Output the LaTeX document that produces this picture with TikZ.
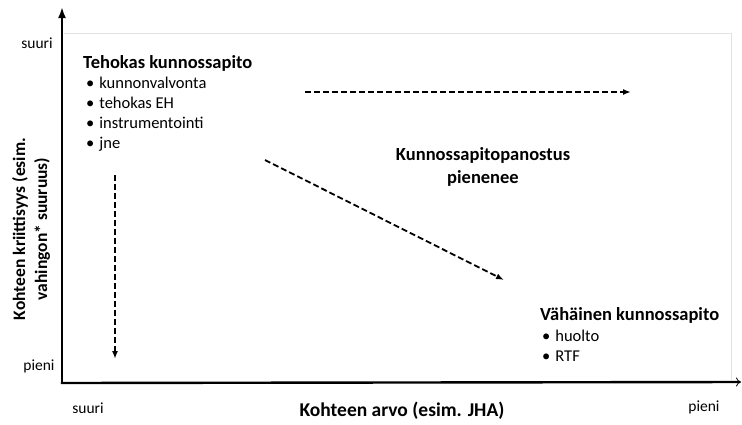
\documentclass[tikz,border=0pt]{standalone}
\usepackage{fontspec}
\setmainfont{Carlito}
\usetikzlibrary{arrows.meta,positioning}
\definecolor{faint}{HTML}{E2E2E2}
\tikzset{
  lbl/.style={font=\fontsize{15.5}{19}\selectfont, inner sep=0pt},
  head/.style={font=\fontsize{18.5}{20}\selectfont\bfseries, inner sep=0pt},
  item/.style={font=\fontsize{16.5}{20}\selectfont, inner sep=0pt, anchor=base west},
  trend/.style={line width=1.8pt, dash pattern=on 6pt off 3pt, -{Latex[length=8pt,width=6pt]}},
}
\begin{document}
\begin{tikzpicture}[x=1pt,y=-1pt]
  \useasboundingbox (0,0) rectangle (742,424);
  % axes
  \coordinate (o) at (62,383);
  \coordinate (ytop) at (62,7);
  \coordinate (xend) at (741,382);
  \draw[faint, line width=0.8pt] (64,33) -- (731,33) -- (731,380);
  \draw[line width=2.4pt, -{Latex[length=11pt,width=8pt]}] (o) -- (ytop);
  \draw[line width=2.4pt, -{To[length=5pt,width=9pt,line width=0.8pt]}, shorten <=-1.2pt] (o) -- (xend);
  % scale labels
  \node[lbl, anchor=base] (ysuuri) at (37,48) {suuri};
  \node[lbl, anchor=base] (ypieni) at (39,370) {pieni};
  \node[lbl, anchor=base] (xsuuri) at (88,413) {suuri};
  \node[lbl, anchor=base] (xpieni) at (704,411) {pieni};
  \node[head, anchor=base, font=\fontsize{19.5}{20}\selectfont\bfseries] (xlabel) at (402,416) {Kohteen arvo (esim. JHA)};
  \node[head, rotate=90, align=center, font=\fontsize{17.5}{22}\selectfont\bfseries] (ylabel) at (31,229)
    {Kohteen kriittisyys (esim.\\vahingon* suuruus)};
  % top left corner
  \node[head, anchor=base west] (tehokas) at (83,68) {Tehokas kunnossapito};
  \foreach \t [count=\i] in {kunnonvalvonta, tehokas EH, instrumentointi, jne}
    \node[item] (teh\i) at (86,68+20*\i) {\textbullet\hspace{5pt}\t};
  % bottom right corner
  \node[head, anchor=base west] (vahainen) at (540,320) {Vähäinen kunnossapito};
  \node[item] (vah1) at (542,341) {\textbullet\hspace{5pt}huolto};
  \node[item] (vah2) at (542,361) {\textbullet\hspace{5pt}RTF};
  % middle
  \node[head, align=center, font=\fontsize{18.5}{23}\selectfont\bfseries] (panostus) at (483,167)
    {Kunnossapitopanostus\\pienenee};
  % trend arrows
  \coordinate (alas1) at (115,175);
  \coordinate (alas2) at (115,359);
  \coordinate (oik1) at (305,92);
  \coordinate (oik2) at (631,92);
  \coordinate (vino1) at (265,160);
  \coordinate (vino2) at (504,280);
  \draw[trend] (alas1) -- (alas2);
  \draw[trend] (oik1) -- (oik2);
  \draw[trend] (vino1) -- (vino2);
\end{tikzpicture}
\end{document}
